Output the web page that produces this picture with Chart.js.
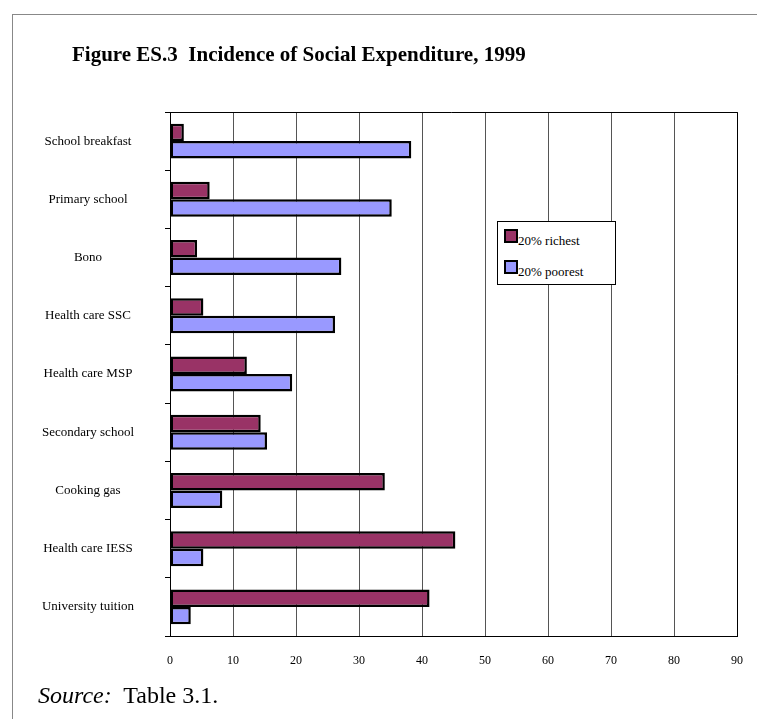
<!DOCTYPE html>
<html>
<head>
<meta charset="utf-8">
<script src="https://cdn.jsdelivr.net/npm/chart.js@4"></script>
<style>
  body { margin: 0; background: #fff; font-family: "Liberation Serif", "Times New Roman", serif; }
  #page { position: relative; width: 757px; height: 719px; overflow: hidden; }
  #frame { position: absolute; left: 12px; top: 14px; width: 800px; height: 800px;
           border-left: 1px solid #888; border-top: 1px solid #888; }
  #title { position: absolute; left: 72px; top: 42px; font-size: 21px; font-weight: bold; white-space: pre; }
  #source { position: absolute; left: 38px; top: 682px; font-size: 24px; white-space: pre; }
  #chartBox { position: absolute; left: 0; top: 0; width: 757px; height: 719px; }
  #legend { position: absolute; left: 497px; top: 221px; width: 117px; height: 62px;
            border: 1px solid #000; background: #fff; font-size: 13px; }
  .item { position: absolute; left: 6px; height: 16px; line-height: 16px; white-space: nowrap; }
  .swatch { position: absolute; left: 0; top: 0; width: 10px; height: 10px; border: 2px solid #000; }
  .item span { position: absolute; left: 14px; top: 4px; }
</style>
</head>
<body>
<div id="page">
  <div id="frame"></div>
  <div id="chartBox"><canvas id="incidenceChart" width="757" height="719"></canvas></div>
  <div id="title">Figure ES.3  Incidence of Social Expenditure, 1999</div>
  <div id="legend"></div>
  <div id="source"><i>Source:</i>  Table 3.1.</div>
</div>
<script>
const categories = [
  "School breakfast",
  "Primary school",
  "Bono",
  "Health care SSC",
  "Health care MSP",
  "Secondary school",
  "Cooking gas",
  "Health care IESS",
  "University tuition",
];
const seriesNames = ["20% richest", "20% poorest"];
const richest = [2.2, 6.3, 4.3, 5.3, 12.2, 14.4, 34.1, 45.3, 41.2];
const poorest = [38.3, 35.2, 27.2, 26.2, 19.4, 15.4, 8.3, 5.3, 3.3];
const seriesColors = ["#993366", "#9999FF"];

const serif = '"Liberation Serif", "Times New Roman", serif';

// top and right edge of the plot box
const plotFrame = {
  id: "plotFrame",
  afterDraw(chart) {
    const a = chart.chartArea;
    const ctx = chart.ctx;
    ctx.save();
    ctx.strokeStyle = "#000";
    ctx.lineWidth = 1;
    ctx.beginPath();
    ctx.moveTo(a.left - 4, a.top + 0.5);
    ctx.lineTo(a.right + 0.5, a.top + 0.5);
    ctx.lineTo(a.right + 0.5, a.bottom);
    ctx.stroke();
    ctx.restore();
  },
};

const ctx = document.getElementById("incidenceChart").getContext("2d");
const incidenceChart = new Chart(ctx, {
  type: "bar",
  data: {
    labels: categories,
    datasets: [
      {
        label: seriesNames[0],
        data: richest,
        backgroundColor: seriesColors[0],
        borderColor: "#000",
        borderWidth: 2.5,
        borderSkipped: false,
      },
      {
        label: seriesNames[1],
        data: poorest,
        backgroundColor: seriesColors[1],
        borderColor: "#000",
        borderWidth: 2.5,
        borderSkipped: false,
      },
    ],
  },
  options: {
    indexAxis: "y",
    responsive: false,
    animation: false,
    devicePixelRatio: 1,
    layout: { padding: { top: 112, right: 20, bottom: 43, left: 0 } },
    datasets: { bar: { categoryPercentage: 0.6, barPercentage: 1.0 } },
    plugins: {
      legend: { display: false },
      title: { display: false },
      tooltip: { enabled: false },
    },
    scales: {
      x: {
        min: 0,
        max: 90,
        ticks: {
          stepSize: 10,
          padding: 18,
          color: "#000",
          font: { family: serif, size: 12 },
        },
        grid: { color: "#555", lineWidth: 1, drawTicks: false },
        border: { display: true, color: "#000", width: 1 },
        afterFit(scale) {
          scale.height = 40;
          scale.paddingRight = 0;
        },
      },
      y: {
        ticks: {
          color: "#000",
          padding: 31,
          crossAlign: "center",
          font: { family: serif, size: 13 },
        },
        grid: { drawOnChartArea: false, tickLength: 5, color: "#000", offset: true },
        border: { display: true, color: "#000", width: 1 },
        afterFit(scale) {
          scale.width = 170;
        },
      },
    },
  },
  plugins: [plotFrame],
});

// legend box built from the datasets
const legendBox = document.getElementById("legend");
incidenceChart.data.datasets.forEach(function (ds, i) {
  const item = document.createElement("div");
  item.className = "item";
  item.style.top = (7 + i * 31) + "px";
  const sw = document.createElement("div");
  sw.className = "swatch";
  sw.style.background = ds.backgroundColor;
  const txt = document.createElement("span");
  txt.textContent = ds.label;
  item.appendChild(sw);
  item.appendChild(txt);
  legendBox.appendChild(item);
});
</script>
</body>
</html>
